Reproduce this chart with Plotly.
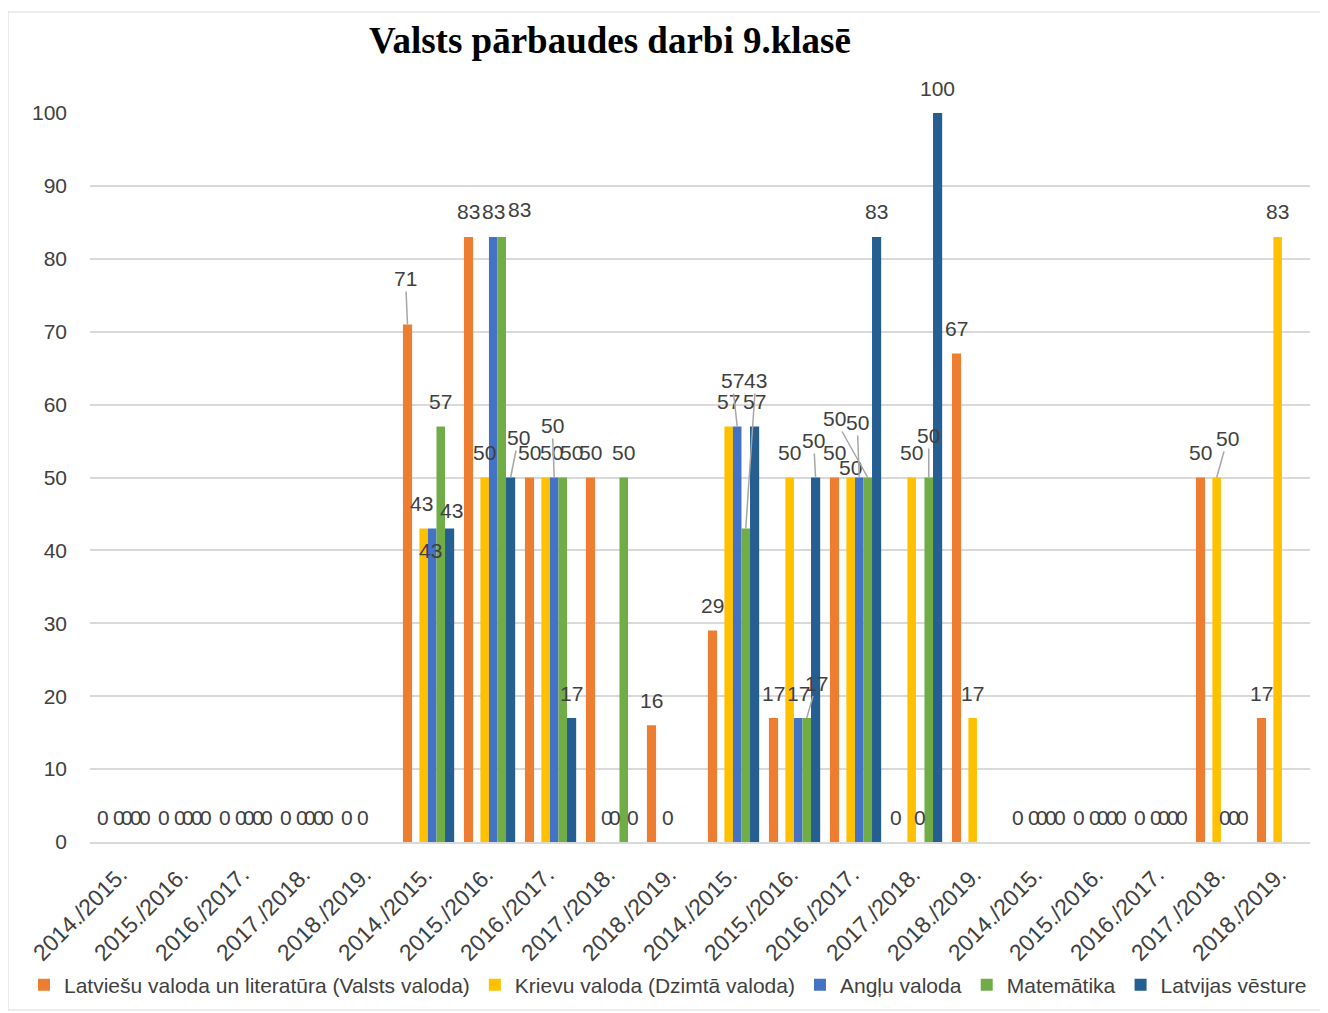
import plotly.graph_objects as go

years = ["2014./2015.", "2015./2016.", "2016./2017.", "2017./2018.", "2018./2019."]
tick_text = years * 4

latviesu = [0, 0, 0, 0, 0, 71, 83, 50, 50, 16, 29, 17, 50, 0, 67, 0, 0, 0, 50, 17]
krievu = [0, 0, 0, 0, 0, 43, 50, 50, 0, 0, 57, 50, 50, 50, 17, 0, 0, 0, 50, 83]
anglu = [0, 0, 0, 0, None, 43, 83, 50, 0, None, 57, 17, 50, 0, None, 0, 0, 0, 0, None]
matematika = [0, 0, 0, 0, None, 57, 83, 50, 50, None, 43, 17, 50, 50, None, 0, 0, 0, 0, None]
vesture = [0, 0, 0, 0, None, 43, 50, 17, 0, None, 57, 50, 83, 100, None, 0, 0, 0, 0, None]

series = [
    ("Latviešu valoda un literatūra (Valsts valoda)", latviesu, "#ED7D31", -0.37, 0.15),
    ("Krievu valoda (Dzimtā valoda)", krievu, "#FFC000", -0.10, 0.14),
    ("Angļu valoda", anglu, "#4472C4", 0.04, 0.14),
    ("Matemātika", matematika, "#70AD47", 0.18, 0.14),
    ("Latvijas vēsture", vesture, "#255E91", 0.32, 0.15),
]

# label placement tweaks (series, category) -> (dx px, dy px, leader line)
label_moves = {
    (0, 5): (-2, -46, True), (1, 5): (-2, -25, False), (2, 5): (-2, 22, False),
    (4, 5): (2, -18, False),
    (3, 6): (18, -27, False), (4, 6): (8, -40, True),
    (1, 7): (6, -25, False), (2, 7): (-2, -52, True), (3, 7): (9, -25, False),
    (2, 10): (-5, -46, True), (3, 10): (10, -148, True),
    (3, 11): (10, -35, True), (4, 11): (-2, -37, True),
    (3, 12): (-33, -59, True), (2, 12): (-2, -55, True), (1, 12): (0, -10, False),
    (3, 13): (0, -42, True),
    (1, 18): (11, -39, True),
}

x_idx = list(range(len(tick_text)))

# page has an 8px body margin, so figure coords = reference px - 8
OFF = 8
W, H = 1328 - OFF, 1013 - OFF
L, T = 90 - OFF, 113 - OFF
R = 1328 - 1310
B = 1013 - 842
pw, ph = W - L - R, H - T - B

fig = go.Figure()
annotations = []
for si, (name, vals, color, off, w) in enumerate(series):
    fig.add_trace(go.Bar(
        x=x_idx, y=vals, name=name,
        marker=dict(color=color, line=dict(width=0)),
        offset=off, width=w,
    ))
    for ci, v in enumerate(vals):
        if v is None:
            continue
        dx, dy, leader = label_moves.get((si, ci), (0, -25, False))
        ann = dict(x=ci + off + w / 2, y=v, xref="x", yref="y", text=str(v),
                   font=dict(size=21, color="#404040"), yanchor="middle", xanchor="center")
        if leader:
            ann.update(showarrow=True, arrowhead=0, ax=dx, ay=dy, arrowcolor="#a6a6a6",
                       arrowwidth=1.5, standoff=0, startstandoff=0)
        else:
            ann.update(showarrow=False, xshift=dx, yshift=-dy)
        annotations.append(ann)

fig.update_layout(
    width=W, height=H,
    paper_bgcolor="white", plot_bgcolor="white",
    font=dict(family="Liberation Sans", color="#404040"),
    title=dict(text="<b>Valsts pārbaudes darbi 9.klasē</b>", x=(610 - OFF) / W, xanchor="center",
               y=1 - (40 - OFF) / H, yanchor="middle",
               font=dict(family="Liberation Serif", size=37, color="black")),
    margin=dict(l=L, r=R, t=T, b=B, autoexpand=False),
    barmode="overlay",
    showlegend=True,
    legend=dict(orientation="h", x=(24 - 90) / pw, xanchor="left",
                y=-(985 - 842) / ph, yanchor="middle",
                font=dict(size=21, color="#404040"), itemwidth=30,
                itemsizing="constant"),
    xaxis=dict(tickmode="array", tickvals=x_idx, ticktext=tick_text, tickangle=-45,
               range=[-0.5, 19.5], showgrid=False, showline=True, linecolor="#d9d9d9",
               linewidth=2, ticks="", automargin=False, ticklabelstandoff=8,
               tickfont=dict(size=23, color="#404040")),
    yaxis=dict(range=[0, 100], dtick=10, showgrid=True, gridcolor="#d9d9d9", gridwidth=2,
               zeroline=False, ticks="", automargin=False,
               tickfont=dict(size=21, color="#404040"), ticklabelstandoff=22),
    annotations=annotations,
    shapes=[dict(type="rect", xref="paper", yref="paper",
                 x0=(8 - 90) / pw, x1=(1340 - 90) / pw,
                 y0=1 - (1010 - 113) / ph, y1=1 - (12 - 113) / ph,
                 line=dict(color="#d9d9d9", width=1), layer="below")],
)

fig.write_html("out.html")
